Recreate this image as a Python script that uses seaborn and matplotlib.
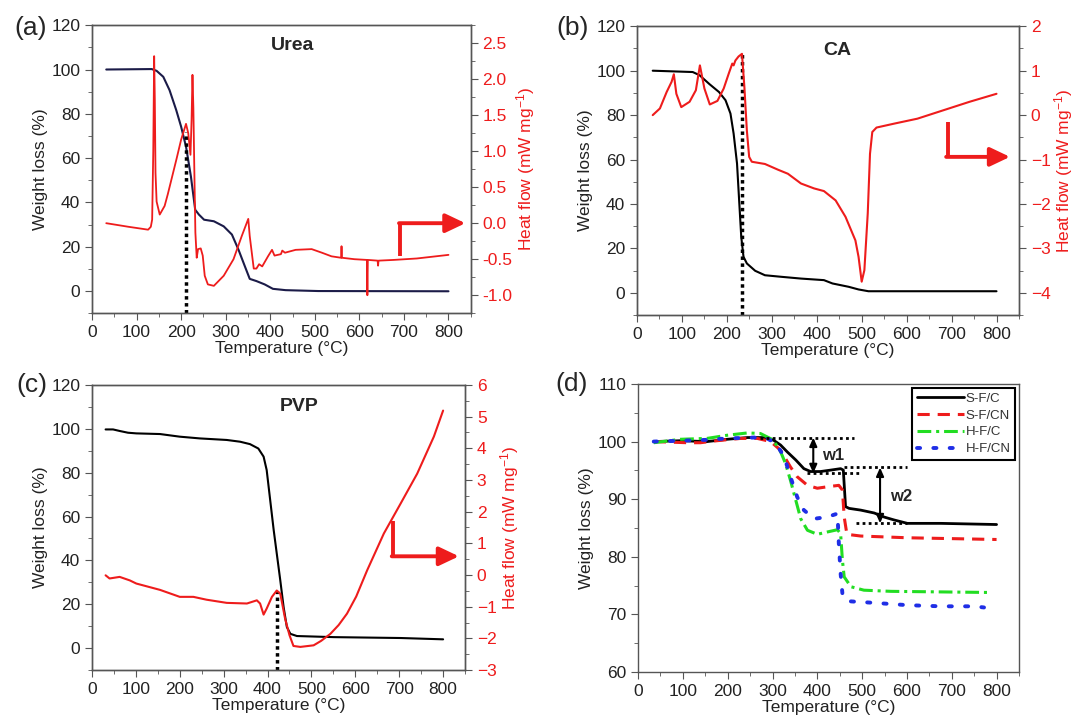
import numpy as np
import pandas as pd
import matplotlib
matplotlib.use("Agg")
import matplotlib.pyplot as plt
import seaborn as sns
from matplotlib.ticker import MultipleLocator

# ---------------- data ----------------
# (a) Urea
urea_wT = [32, 134, 145, 160, 174, 189, 200, 211, 222, 231.6, 240, 251.5, 273.5, 295.6, 314,
           328.7, 343, 354, 369, 387.5, 406, 434.6, 508, 800]
urea_w = [100, 100.2, 99.4, 96.7, 90.7, 81.7, 74.2, 65.2, 51.7, 36.7, 34.5, 32.2, 31.5, 29.2, 25.5,
          18.7, 11.2, 5.5, 4.5, 3, 1, 0.4, 0, -0.1]
urea_hT = [32, 82, 126, 132, 135, 137.5, 139.5, 141, 142.5, 145, 152, 163, 170, 178, 190, 200, 211,
           216, 221, 223.5, 225.5, 227.5, 230, 232, 235, 238, 244, 248.5, 253, 260, 273.5, 295.6,
           317.6, 336, 350.7, 354, 363, 369, 375, 382, 395, 404, 409.6, 424, 427, 433, 457, 493,
           516, 537.5, 559, 560, 561, 589, 617, 618, 619, 641, 642, 643, 677, 729, 800]
urea_h = [0.0, -0.05, -0.09, -0.05, 0.05, 1.0, 2.32, 1.7, 0.7, 0.3, 0.12, 0.24, 0.40, 0.6, 0.9,
          1.16, 1.38, 1.25, 0.95, 1.44, 2.06, 1.6, 0.6, -0.13, -0.48, -0.36, -0.35, -0.45, -0.73,
          -0.85, -0.87, -0.73, -0.50, -0.18, 0.06, -0.18, -0.63, -0.63, -0.57, -0.60, -0.46, -0.37,
          -0.45, -0.43, -0.38, -0.41, -0.37, -0.36, -0.41, -0.46, -0.48, -0.32, -0.48, -0.50,
          -0.51, -1.0, -0.51, -0.52, -0.59, -0.52, -0.51, -0.49, -0.44]

# (b) CA
ca_wT = [35, 124, 139, 161, 182.5, 197, 208, 215, 222.6, 227.7, 232, 237, 244.5, 263, 284.7, 321,
         365, 416, 435, 471, 493, 515, 800]
ca_w = [100, 99.4, 98, 94, 90.4, 86.7, 80.7, 71.7, 58.2, 40.2, 25.2, 16.2, 13.2, 9.9, 7.9, 7.2,
        6.4, 5.7, 4.2, 2.7, 1.5, 0.7, 0.7]
ca_hT = [35, 51, 66, 77, 82, 87.6, 98.5, 117, 131, 140, 150, 162, 179, 193, 204, 212, 215, 219, 226,
         233.6, 239, 244.5, 249.6, 255.5, 284.7, 314, 335.8, 365, 394, 416, 442, 464, 486, 493, 500,
         506, 513.5, 518.5, 523.6, 533, 573, 624, 682, 740, 800]
ca_h = [0.0, 0.15, 0.52, 0.75, 0.92, 0.48, 0.18, 0.3, 0.56, 1.12, 0.6, 0.24, 0.32, 0.6, 0.93, 1.16,
        1.12, 1.23, 1.32, 1.38, 0.63, -0.35, -0.94, -1.05, -1.1, -1.23, -1.32, -1.54, -1.65, -1.71,
        -1.92, -2.29, -2.82, -3.19, -3.75, -3.49, -2.21, -0.87, -0.38, -0.28, -0.19, -0.08, 0.11,
        0.30, 0.48]

# (c) PVP
pvp_wT = [31, 48, 63, 82, 101, 155, 200, 246, 307, 337.5, 360, 379, 391, 398, 406, 414, 421, 429,
          436.6, 444, 452, 467, 551, 703, 800]
pvp_w = [99.7, 99.7, 99, 98.2, 97.9, 97.6, 96.4, 95.6, 94.9, 94.1, 93, 91, 87.3, 81.2, 67.5, 53.8,
         43.1, 30.9, 18.7, 9.6, 6.5, 5.5, 5, 4.6, 4]
pvp_hT = [31, 40, 63, 86, 101, 155, 200, 231, 261, 307, 353, 375.6, 383, 391, 398, 410, 421, 429,
          440, 450, 459, 474.7, 505, 522, 543, 562, 581, 602, 627, 665, 703, 741, 779, 800]
pvp_h = [-0.01, -0.11, -0.06, -0.17, -0.27, -0.47, -0.69, -0.69, -0.78, -0.88, -0.9, -0.80, -0.9,
         -1.25, -1.06, -0.69, -0.49, -0.59, -1.38, -1.9, -2.24, -2.27, -2.22, -2.08, -1.86, -1.58,
         -1.22, -0.68, 0.15, 1.31, 2.25, 3.2, 4.37, 5.19]

# (d) composites
sfc_T = [35, 95, 154, 199, 244, 288, 303, 318, 333, 352, 370, 385, 407, 430, 452, 458, 463, 471,
         497, 527, 549, 571, 601, 676, 800]
sfc_w = [100, 100.15, 100, 100.4, 100.7, 100.7, 100.2, 99.4, 98.2, 96.8, 95.3, 94.8, 94.8, 95.05,
         95.3, 95.05, 88.7, 88.4, 88.1, 87.6, 86.9, 86.4, 85.8, 85.8, 85.6]
sfcn_T = [35, 110, 139, 176, 229, 266, 296, 318, 340, 355, 378, 400, 422, 448, 456, 460, 466, 497,
          601, 800]
sfcn_w = [100, 99.8, 99.8, 100.15, 100.55, 100.55, 100, 98.5, 95.6, 93.9, 92.4, 91.9, 92.15, 92.4,
          91.6, 86.9, 83.9, 83.6, 83.3, 83]
hfc_T = [35, 95, 154, 199, 244, 273, 296, 314, 329, 340, 352, 363, 378, 400, 422, 445, 452, 456,
         460, 475, 504, 564, 676, 787]
hfc_w = [99.8, 100.4, 100.55, 101.1, 101.5, 101.4, 100.5, 99, 96.2, 93.3, 89.8, 86.6, 84.6, 83.9,
         84.3, 84.7, 84, 79.4, 76.5, 74.8, 74.2, 74, 73.9, 73.8]
hfcn_T = [35, 95, 154, 199, 259, 288, 307, 326, 340, 355, 370, 393, 422, 445, 448, 452, 456, 466,
          527, 601, 676, 750, 772]
hfcn_w = [100, 100.15, 100.3, 100.55, 100.7, 100.55, 99.7, 97.4, 93.9, 90.4, 88.1, 86.6, 86.9,
          87.5, 82.3, 77.1, 73.6, 72.3, 72, 71.6, 71.4, 71.4, 71.2]
d_labels = ["S-F/C", "S-F/CN", "H-F/C", "H-F/CN"]

# ---------------- style ----------------
sns.set_style("ticks")
plt.rcParams["font.family"] = ["Liberation Sans", "DejaVu Sans"]
plt.rcParams["mathtext.fontset"] = "custom"
plt.rcParams["mathtext.rm"] = "Liberation Sans"
plt.rcParams["mathtext.it"] = "Liberation Sans:italic"

RED = "#ee1c1c"
SPINE = "#555555"
FS = 12.5

fig = plt.figure(figsize=(10.76, 7.2), dpi=100)


def base_axes(rect, ylim, ymaj, ymin_):
    ax = fig.add_axes(rect)
    ax.set_xlim(0, 850)
    ax.set_ylim(*ylim)
    ax.xaxis.set_major_locator(MultipleLocator(100))
    ax.xaxis.set_minor_locator(MultipleLocator(50))
    ax.yaxis.set_major_locator(MultipleLocator(ymaj))
    ax.yaxis.set_minor_locator(MultipleLocator(ymin_))
    for s in ax.spines.values():
        s.set_color(SPINE)
        s.set_linewidth(1.0)
    ax.tick_params(which="both", direction="out", colors=SPINE, labelcolor="#222222",
                   labelsize=FS, right=False, top=False)
    ax.tick_params(which="major", length=5)
    ax.tick_params(which="minor", length=3)
    return ax


def labels(ax):
    ax.set_xlabel("Temperature (°C)", fontsize=FS, labelpad=1, color="#222222")
    ax.set_ylabel("Weight loss (%)", fontsize=FS, labelpad=2, color="#222222")


def twin_axes(ax, ylim, maj, mnr, fmt=None):
    tw = ax.twinx()
    tw.set_ylim(*ylim)
    tw.yaxis.set_major_locator(MultipleLocator(maj))
    tw.yaxis.set_minor_locator(MultipleLocator(mnr))
    for s in tw.spines.values():
        s.set_color(SPINE)
        s.set_linewidth(1.0)
    tw.tick_params(which="both", direction="out", colors=SPINE, labelcolor=RED, labelsize=FS)
    tw.tick_params(which="major", length=5)
    tw.tick_params(which="minor", length=3)
    if fmt:
        tw.yaxis.set_major_formatter(fmt)
    return tw


def twin_label(tw):
    tw.set_ylabel("Heat flow (mW mg$^{-1}$)", color=RED, fontsize=FS, labelpad=1)


def line(ax, T, y, color, lw=1.5):
    df = pd.DataFrame({"T": T, "y": y})
    sns.lineplot(data=df, x="T", y="y", ax=ax, color=color, lw=lw, sort=False,
                 estimator=None, legend=False)


def red_arrow(tw, x0, ytop, ycorner, xtip):
    tw.plot([x0, x0], [ytop, ycorner], color=RED, lw=2.8, solid_capstyle="butt")
    tw.annotate("", xy=(xtip, ycorner), xytext=(x0 - 3, ycorner),
                arrowprops=dict(arrowstyle="-|>,head_length=0.8,head_width=0.38", color=RED,
                                lw=2.8, shrinkA=0, shrinkB=0, mutation_scale=15))


def vdotted(ax, x, y0, y1):
    ax.plot([x, x], [y0, y1], color="black", lw=2.5, linestyle=(0, (1, 1)))


# ---------------- (a) Urea ----------------
axa = base_axes([0.0855, 0.565, 0.352, 0.40], (-10, 120), 20, 10)
line(axa, urea_wT, urea_w, "#1b1b48")
vdotted(axa, 210, -10, 72)
axa.text(451, 111, "Urea", fontsize=14, fontweight="bold", ha="center", va="center")
labels(axa)
twa = twin_axes(axa, (-1.25, 2.75), 0.5, 0.25,
                fmt=matplotlib.ticker.FuncFormatter(lambda v, p: f"{v:.1f}"))
line(twa, urea_hT, urea_h, RED, lw=1.3)
twin_label(twa)
red_arrow(twa, 692, -0.46, 0.0, 838)

# ---------------- (b) CA ----------------
axb = base_axes([0.592, 0.5625, 0.355, 0.401], (-10, 120), 20, 10)
line(axb, ca_wT, ca_w, "black")
vdotted(axb, 233.6, -10, 107.6)
axb.text(446, 109, "CA", fontsize=14, fontweight="bold", ha="center", va="center")
labels(axb)
twb = twin_axes(axb, (-4.5, 2), 1, 0.5)
line(twb, ca_hT, ca_h, RED, lw=1.5)
twin_label(twb)
red_arrow(twb, 691, -0.15, -0.94, 830)

# ---------------- (c) PVP ----------------
axc = base_axes([0.0855, 0.0694, 0.3467, 0.396], (-10, 120), 20, 10)
line(axc, pvp_wT, pvp_w, "black")
vdotted(axc, 421, -10, 26)
axc.text(471, 110, "PVP", fontsize=14, fontweight="bold", ha="center", va="center")
labels(axc)
twc = twin_axes(axc, (-3, 6), 1, 0.5)
line(twc, pvp_hT, pvp_h, RED, lw=1.5)
twin_label(twc)
red_arrow(twc, 686, 1.70, 0.59, 836)

# ---------------- (d) composites ----------------
axd = base_axes([0.593, 0.0667, 0.354, 0.40], (60, 110), 10, 5)
series = [(sfc_T, sfc_w, "black", "-", 2.0),
          (sfcn_T, sfcn_w, "#ee1c1c", (0, (4, 2.6)), 2.2),
          (hfc_T, hfc_w, "#22dd22", (0, (4.5, 1.6, 1, 1.6)), 2.2),
          (hfcn_T, hfcn_w, "#1f2ee6", (0, (0.8, 3.4)), 2.8)]
for (T, w, c, ls, lw), lab in zip(series, d_labels):
    df = pd.DataFrame({"T": T, "y": w})
    sns.lineplot(data=df, x="T", y="y", ax=axd, color=c, lw=lw, linestyle=ls, sort=False,
                 estimator=None, label=lab,
                 dash_capstyle="round" if lab == "H-F/CN" else "butt")
labels(axd)
for (x0, x1, yy) in [(273, 482, 100.7), (378, 497, 94.5), (460, 601, 95.5), (486, 601, 85.8)]:
    axd.plot([x0, x1], [yy, yy], color="black", lw=2.0, linestyle=(0, (1, 1.2)))
for (xx, y0, y1) in [(391, 100.7, 94.5), (540, 95.5, 85.8)]:
    axd.annotate("", xy=(xx, y1), xytext=(xx, y0),
                 arrowprops=dict(arrowstyle="<|-|>,head_length=0.5,head_width=0.22",
                                 color="black", lw=1.5, shrinkA=0, shrinkB=0))
axd.text(410, 97.6, "w1", fontsize=12, fontweight="bold", ha="left", va="center")
axd.text(563, 90.5, "w2", fontsize=12, fontweight="bold", ha="left", va="center")
leg = axd.legend(loc="upper right", fontsize=9.5, handlelength=3.6, handletextpad=0.1,
                 borderaxespad=0.3, fancybox=False, framealpha=1, borderpad=0.35,
                 labelspacing=0.35)
leg.get_frame().set_edgecolor("black")
leg.get_frame().set_linewidth(1.5)
for t in leg.get_texts():
    t.set_color("#333333")

# panel letters
for (x, y, s) in [(0.028, 0.961, "(a)"), (0.532, 0.961, "(b)"), (0.030, 0.465, "(c)"),
                  (0.531, 0.467, "(d)")]:
    fig.text(x, y, s, fontsize=19, ha="center", va="center")

fig.savefig("out.png", dpi=100)
